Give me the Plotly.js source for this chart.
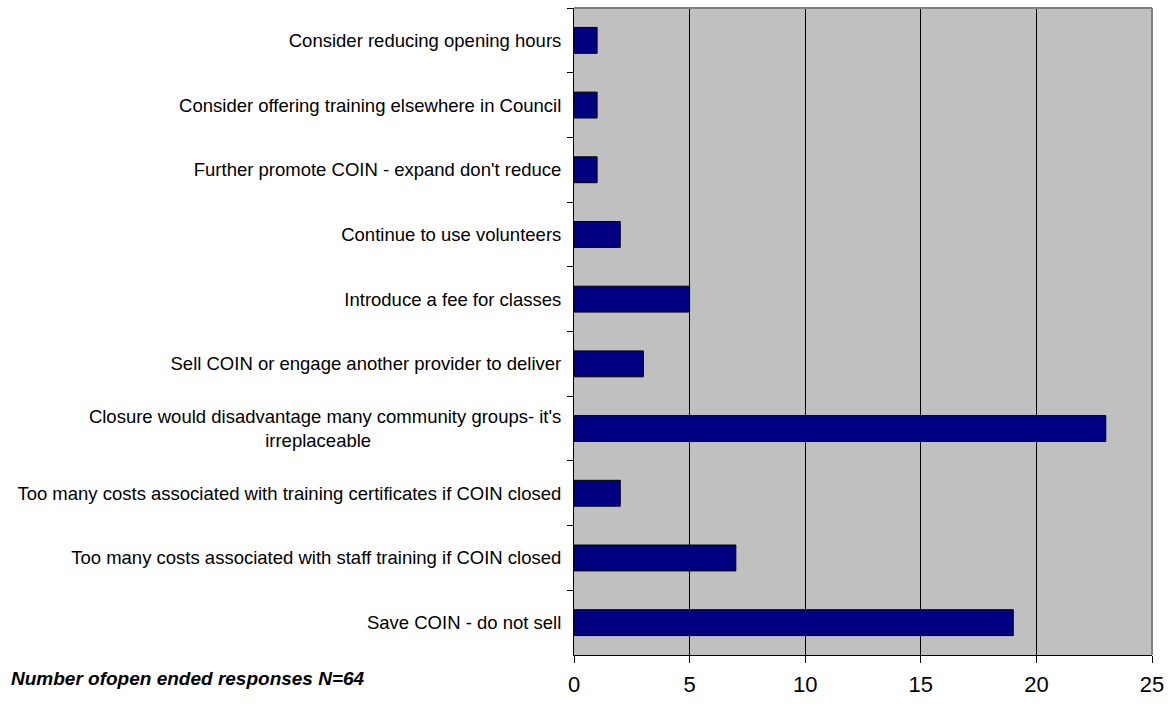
<!DOCTYPE html>
<html>
<head>
<meta charset="utf-8">
<script src="https://cdn.plot.ly/plotly-3.0.1.min.js"></script>
<style>
html,body{margin:0;padding:0;background:#fff;}
#chart{width:1171px;height:715px;}
</style>
</head>
<body>
<div id="chart"></div>
<script>
// Categories listed top to bottom as in the reference
const categories = [
  "Consider reducing opening hours",
  "Consider offering training elsewhere in Council",
  "Further promote COIN - expand don't reduce",
  "Continue to use volunteers",
  "Introduce a fee for classes",
  "Sell COIN or engage another provider to deliver",
  "Closure would disadvantage many community groups- it's<br>irreplaceable" + "\u00a0".repeat(37),
  "Too many costs associated with training certificates if COIN closed",
  "Too many costs associated with staff training if COIN closed",
  "Save COIN - do not sell"
];
const responses = [1, 1, 1, 2, 5, 3, 23, 2, 7, 19];
const xTicks = [0, 5, 10, 15, 20, 25];
const footnote = "Number ofopen ended responses N=64";

const trace = {
  type: 'bar',
  orientation: 'h',
  y: categories,
  x: responses,
  marker: {color: '#000080', line: {color: '#000000', width: 1}},
  hoverinfo: 'x+y'
};

const layout = {
  width: 1171, height: 715,
  margin: {l: 574, r: 19, t: 8, b: 60},
  paper_bgcolor: '#ffffff',
  plot_bgcolor: '#c0c0c0',
  bargap: 0.6,
  showlegend: false,
  font: {family: 'Liberation Sans, Arial, sans-serif', color: '#000000'},
  xaxis: {
    range: [0, 25],
    tickvals: xTicks,
    ticktext: xTicks.map(String),
    showgrid: true, gridcolor: '#000000', gridwidth: 1,
    zeroline: false,
    showline: true, linecolor: '#000000', linewidth: 1,
    ticks: 'outside', ticklen: 7, tickcolor: '#000000',
    tickfont: {size: 22, color: '#000000'},
    ticklabelstandoff: 3,
    fixedrange: true
  },
  yaxis: {
    type: 'category',
    autorange: 'reversed',
    showgrid: false, zeroline: false,
    showline: true, linecolor: '#000000', linewidth: 1,
    ticks: 'outside', ticklen: 6, tickcolor: '#000000',
    tickson: 'boundaries',
    tickfont: {size: 18.5, color: '#000000'},
    ticklabelstandoff: 8,
    fixedrange: true
  },
  shapes: [
    {type: 'line', xref: 'paper', yref: 'paper', x0: 0, x1: 1, y0: 1, y1: 1,
     line: {color: '#808080', width: 2}},
    {type: 'line', xref: 'paper', yref: 'paper', x0: 1, x1: 1, y0: 0, y1: 1,
     line: {color: '#808080', width: 2}}
  ],
  annotations: [
    {text: '<b><i>' + footnote + '</i></b>', xref: 'paper', yref: 'paper',
     x: 0, y: 0, xanchor: 'left', yanchor: 'top', yshift: -11,
     showarrow: false, font: {size: 19, color: '#000000'}}
  ]
};

// place footnote at pixel x≈9 from left of page
layout.annotations[0].x = (9 - 574) / (1171 - 574 - 19);

Plotly.newPlot('chart', [trace], layout, {displayModeBar: false, staticPlot: true});
</script>
</body>
</html>
